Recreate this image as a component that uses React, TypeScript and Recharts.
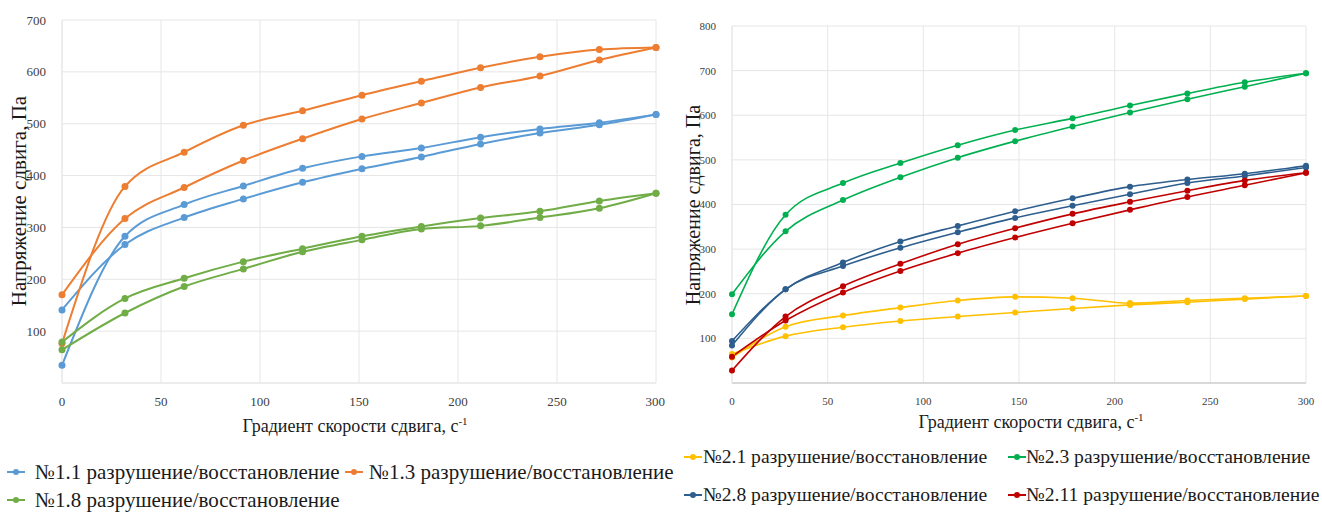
import React from "react";
import { LineChart, Line, XAxis, YAxis, CartesianGrid } from "recharts";

// shear rate points, s^-1
const xLeft = [0, 31.8, 61.7, 91.6, 121.5, 151.5, 181.5, 211.4, 241.4, 271.4, 300];
const xRight = [0, 28, 58, 88, 118, 148, 178, 208, 238, 268, 300];

// left panel, Pa (two branches per sample)
const s11a = [34, 283, 344, 380, 414, 437, 453, 474, 490, 502, 518];
const s11b = [141, 267, 319, 355, 387, 413, 436, 461, 482, 498, 518];
const s13a = [76, 379, 445, 497, 525, 555, 582, 608, 629, 643, 647];
const s13b = [170, 317, 377, 429, 471, 509, 540, 570, 592, 623, 647];
const s18a = [79, 163, 202, 234, 259, 283, 302, 318, 331, 351, 366];
const s18b = [64, 135, 186, 220, 253, 276, 297, 303, 319, 337, 366];

// right panel, Pa
const s21a = [57, 126, 151, 169, 185, 193, 190, 179, 185, 190, 195];
const s21b = [65, 105, 125, 139, 149, 158, 167, 175, 181, 188, 195];
const s23a = [154, 377, 448, 493, 533, 567, 593, 622, 649, 674, 694];
const s23b = [199, 340, 410, 461, 505, 542, 575, 606, 636, 664, 694];
const s28a = [94, 210, 270, 317, 352, 385, 414, 440, 456, 469, 487];
const s28b = [84, 210, 262, 303, 338, 370, 397, 423, 448, 464, 483];
const s211a = [28, 149, 217, 267, 311, 347, 379, 406, 431, 454, 471];
const s211b = [59, 140, 203, 251, 291, 326, 358, 388, 417, 443, 471];

const xTicks = [0, 50, 100, 150, 200, 250, 300];
const yTicksLeft = [0, 100, 200, 300, 400, 500, 600, 700];
const yTicksRight = [0, 100, 200, 300, 400, 500, 600, 700, 800];

const leftSeries = [
  { name: "№1.1 разрушение/восстановление", color: "#5B9BD5", a: s11a, b: s11b },
  { name: "№1.3 разрушение/восстановление", color: "#ED7D31", a: s13a, b: s13b },
  { name: "№1.8 разрушение/восстановление", color: "#70AD47", a: s18a, b: s18b },
];
const rightSeries = [
  { name: "№2.1 разрушение/восстановление", color: "#FFC000", a: s21a, b: s21b },
  { name: "№2.3 разрушение/восстановление", color: "#00B050", a: s23a, b: s23b },
  { name: "№2.8 разрушение/восстановление", color: "#2E5E8E", a: s28a, b: s28b },
  { name: "№2.11 разрушение/восстановление", color: "#C00000", a: s211a, b: s211b },
];

type S = { name: string; color: string; a: number[]; b: number[] };

function buildRows(xs: number[], series: S[]) {
  return xs.map((x, i) => {
    const row: Record<string, number> = { x };
    series.forEach((s, k) => {
      row["a" + k] = s.a[i];
      row["b" + k] = s.b[i];
    });
    return row;
  });
}

const serif = "'Liberation Serif', 'DejaVu Serif', 'Times New Roman', serif";

function LegendItem({ color, name, mx, tx, cy, size }: { color: string; name: string; mx: number; tx: number; cy: number; size: number }) {
  return (
    <>
      <svg width={20} height={10} style={{ position: "absolute", left: mx, top: cy - 5 }}>
        <line x1={0} y1={5} x2={18} y2={5} stroke={color} strokeWidth={2} />
        <circle cx={9} cy={5} r={3} fill={color} />
      </svg>
      <div
        style={{
          position: "absolute",
          left: tx,
          top: cy,
          transform: "translateY(-50%)",
          fontFamily: serif,
          fontSize: size,
          lineHeight: 1,
          color: "#1a1a1a",
          whiteSpace: "nowrap",
        }}
      >
        {name}
      </div>
    </>
  );
}

function Panel({ xs, series, yMax, yTicks, width, height, margin, yWidth, tickSize, lineW, dotR, axisColor }: any) {
  const rows = buildRows(xs, series);
  return (
    <LineChart width={width} height={height} data={rows} margin={margin}>
      <CartesianGrid stroke="#e6e6e6" />
      <XAxis
        type="number"
        dataKey="x"
        domain={[0, 300]}
        ticks={xTicks}
        tickLine={false}
        axisLine={{ stroke: axisColor }}
        tick={{ fontFamily: serif, fontSize: tickSize, fill: "#404040" }}
        tickMargin={8}
        height={37}
      />
      <YAxis
        type="number"
        domain={[0, yMax]}
        ticks={yTicks}
        tickFormatter={(v: number) => (v === 0 ? "" : String(v))}
        tickLine={false}
        axisLine={{ stroke: "#e6e6e6" }}
        tick={{ fontFamily: serif, fontSize: tickSize, fill: "#404040" }}
        tickMargin={10}
        width={yWidth}
      />
      {series.map((s: S, k: number) => [
        <Line
          key={"a" + k}
          dataKey={"a" + k}
          type="monotone"
          stroke={s.color}
          strokeWidth={lineW}
          dot={{ r: dotR, fill: s.color, stroke: s.color, strokeWidth: 0 }}
          isAnimationActive={false}
        />,
        <Line
          key={"b" + k}
          dataKey={"b" + k}
          type="monotone"
          stroke={s.color}
          strokeWidth={lineW}
          dot={{ r: dotR, fill: s.color, stroke: s.color, strokeWidth: 0 }}
          isAnimationActive={false}
        />,
      ])}
    </LineChart>
  );
}

const titleStyle = (size: number): React.CSSProperties => ({
  position: "absolute",
  fontFamily: serif,
  fontSize: size,
  lineHeight: 1,
  whiteSpace: "nowrap",
  color: "#1a1a1a",
});

export default function App() {
  return (
    <div style={{ position: "absolute", left: 0, top: 0, width: 1322, height: 512, background: "#fff", overflow: "hidden" }}>
      {/* left panel */}
      <div style={{ position: "absolute", left: 0, top: 0 }}>
        <Panel
          xs={xLeft}
          series={leftSeries}
          yMax={700}
          yTicks={yTicksLeft}
          width={665}
          height={420}
          margin={{ top: 20, right: 9, bottom: 0, left: 0 }}
          yWidth={62}
          tickSize={13}
          lineW={2}
          dotR={3.5}
          axisColor="#e6e6e6"
        />
      </div>
      <div style={{ ...titleStyle(21), left: 19, top: 201, transform: "translate(-50%, -50%) rotate(-90deg)" }}>
        Напряжение сдвига, Па
      </div>
      <div style={{ ...titleStyle(18), left: 355, top: 425, transform: "translate(-50%, -50%)" }}>
        Градиент скорости сдвига, с<sup style={{ fontSize: 11 }}>-1</sup>
      </div>
      <LegendItem color={leftSeries[0].color} name={leftSeries[0].name} mx={7} tx={35} cy={472} size={21} />
      <LegendItem color={leftSeries[1].color} name={leftSeries[1].name} mx={345} tx={369} cy={472} size={21} />
      <LegendItem color={leftSeries[2].color} name={leftSeries[2].name} mx={7} tx={35} cy={500} size={21} />

      {/* right panel */}
      <div style={{ position: "absolute", left: 665, top: 0 }}>
        <Panel
          xs={xRight}
          series={rightSeries}
          yMax={800}
          yTicks={yTicksRight}
          width={657}
          height={420}
          margin={{ top: 26, right: 16, bottom: 0, left: 0 }}
          yWidth={67}
          tickSize={11}
          lineW={1.6}
          dotR={3}
          axisColor="#bfbfbf"
        />
      </div>
      <div style={{ ...titleStyle(20), left: 693, top: 205, transform: "translate(-50%, -50%) rotate(-90deg)" }}>
        Напряжение сдвига, Па
      </div>
      <div style={{ ...titleStyle(18), left: 1031, top: 421, transform: "translate(-50%, -50%)" }}>
        Градиент скорости сдвига, с<sup style={{ fontSize: 11 }}>-1</sup>
      </div>
      <LegendItem color={rightSeries[0].color} name={rightSeries[0].name} mx={684} tx={703} cy={457} size={19.6} />
      <LegendItem color={rightSeries[1].color} name={rightSeries[1].name} mx={1008} tx={1026} cy={457} size={19.6} />
      <LegendItem color={rightSeries[2].color} name={rightSeries[2].name} mx={684} tx={703} cy={495} size={19.6} />
      <LegendItem color={rightSeries[3].color} name={rightSeries[3].name} mx={1008} tx={1026} cy={495} size={19.6} />
    </div>
  );
}
